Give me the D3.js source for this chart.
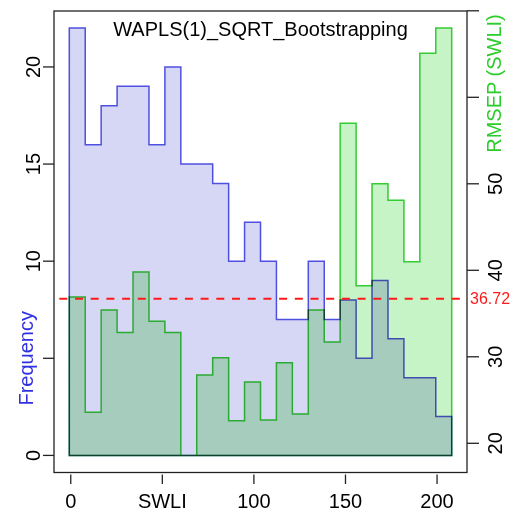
<!DOCTYPE html>
<html>
<head>
<meta charset="utf-8">
<script src="https://cdn.jsdelivr.net/npm/d3@7"></script>
<style>
  body { margin: 0; background: #fff; }
  svg { display: block; font-family: "Liberation Sans", Arial, sans-serif; }
</style>
</head>
<body>
<div id="plot"></div>
<script>
// SWLI range covered by the bins
const swliRange = [-0.8, 208];
// counts per bin (blue histogram, left axis)
const frequency = [22, 16, 18, 19, 19, 16, 20, 15, 15, 14, 10, 12, 10, 7, 7, 10, 7, 8, 5, 9, 6, 4, 4, 2];
// RMSEP per bin (green histogram, right axis), null = no estimate
const rmsep = [36.9, 23.6, 35.4, 32.8, 39.8, 34.1, 32.8, null, 27.9, 29.9, 22.6, 27.1, 22.7, 29.3, 23.4, 35.4, 31.7, 57.0, 38.2, 50.0, 48.1, 41.0, 65.1, 68.0];
const rmsepLimits = [18.6, 68.0];
const rmsepCutoff = 36.72;

// ticks and labels
const xTicks = [0, 50, 100, 150, 200];
const xLabels = [0, 100, 150, 200];
const freqTicks = [0, 5, 10, 15, 20];
const freqLabels = [0, 10, 15, 20];
const rmsepTicks = [20, 30, 40, 50, 60, 70];
const rmsepLabels = [20, 30, 40, 50];

document.addEventListener("DOMContentLoaded", function () {
  const width = 517;
  const height = 511;
  const box = { left: 54, right: 467, top: 11, bottom: 472.5 };

  const svg = d3.select("#plot")
    .append("svg")
    .attr("width", width)
    .attr("height", height);

  // R-style 4% padding on axis limits
  const pad = d => [d[0] - 0.04 * (d[1] - d[0]), d[1] + 0.04 * (d[1] - d[0])];

  const x = d3.scaleLinear().domain(pad(swliRange)).range([box.left, box.right]);
  const yF = d3.scaleLinear().domain(pad([0, d3.max(frequency)])).range([box.bottom, box.top]);
  const yR = d3.scaleLinear().domain(pad(rmsepLimits)).range([box.bottom, box.top]);

  const binWidth = (swliRange[1] - swliRange[0]) / frequency.length;

  // step outline of a histogram, closed along its base
  function steps(values, base) {
    const pts = [[swliRange[0], base]];
    values.forEach((v, i) => {
      const val = v == null ? base : v;
      pts.push([swliRange[0] + i * binWidth, val]);
      pts.push([swliRange[0] + (i + 1) * binWidth, val]);
    });
    pts.push([swliRange[1], base]);
    return pts;
  }

  const lineF = d3.line().x(d => x(d[0])).y(d => yF(d[1]));
  const lineR = d3.line().x(d => x(d[0])).y(d => yR(d[1]));

  // frequency histogram
  svg.append("path")
    .attr("d", lineF(steps(frequency, 0)) + "Z")
    .attr("fill", "#d6d6f5")
    .attr("stroke", "#5050e0")
    .attr("stroke-width", 1.5);

  // RMSEP histogram, multiplied over the first one
  svg.append("path")
    .attr("d", lineR(steps(rmsep, rmsepLimits[0])) + "Z")
    .attr("fill", "#c6f4c6")
    .attr("stroke", "#33cc33")
    .attr("stroke-width", 1.5)
    .style("mix-blend-mode", "multiply");

  // cutoff line
  svg.append("line")
    .attr("x1", box.left)
    .attr("x2", box.right)
    .attr("y1", yR(rmsepCutoff))
    .attr("y2", yR(rmsepCutoff))
    .attr("stroke", "#ff1a1a")
    .attr("stroke-width", 2)
    .attr("stroke-dasharray", "8 7.7")
    .attr("stroke-dashoffset", 10.4);

  svg.append("text")
    .attr("x", 470)
    .attr("y", yR(rmsepCutoff))
    .attr("dy", "0.36em")
    .attr("font-size", "16px")
    .attr("fill", "#ff1a1a")
    .text(rmsepCutoff.toFixed(2));

  // plot box
  svg.append("rect")
    .attr("x", box.left)
    .attr("y", box.top)
    .attr("width", box.right - box.left)
    .attr("height", box.bottom - box.top)
    .attr("fill", "none")
    .attr("stroke", "#222")
    .attr("stroke-width", 1.3);

  // bottom axis
  svg.selectAll(".xtick")
    .data(xTicks)
    .enter()
    .append("line")
    .attr("x1", d => x(d))
    .attr("x2", d => x(d))
    .attr("y1", 474.5)
    .attr("y2", 484)
    .attr("stroke", "#222")
    .attr("stroke-width", 1.3);

  svg.selectAll(".xlab")
    .data(xLabels)
    .enter()
    .append("text")
    .attr("x", d => x(d))
    .attr("y", 508)
    .attr("text-anchor", "middle")
    .attr("font-size", "20px")
    .text(d => d);

  svg.append("text")
    .attr("x", x(50))
    .attr("y", 508)
    .attr("text-anchor", "middle")
    .attr("font-size", "20px")
    .text("SWLI");

  // left axis
  svg.selectAll(".ftick")
    .data(freqTicks)
    .enter()
    .append("line")
    .attr("x1", 43)
    .attr("x2", box.left)
    .attr("y1", d => yF(d))
    .attr("y2", d => yF(d))
    .attr("stroke", "#222")
    .attr("stroke-width", 1.3);

  svg.selectAll(".flab")
    .data(freqLabels)
    .enter()
    .append("text")
    .attr("transform", d => `translate(39.5,${yF(d)}) rotate(-90)`)
    .attr("text-anchor", "middle")
    .attr("font-size", "20px")
    .text(d => d);

  svg.append("text")
    .attr("transform", `translate(33,${yF(5)}) rotate(-90)`)
    .attr("text-anchor", "middle")
    .attr("font-size", "20px")
    .attr("fill", "#3030e0")
    .text("Frequency");

  // right axis
  svg.selectAll(".rtick")
    .data(rmsepTicks)
    .enter()
    .append("line")
    .attr("x1", box.right)
    .attr("x2", 479)
    .attr("y1", d => yR(d))
    .attr("y2", d => yR(d))
    .attr("stroke", "#222")
    .attr("stroke-width", 1.3);

  svg.selectAll(".rlab")
    .data(rmsepLabels)
    .enter()
    .append("text")
    .attr("transform", d => `translate(501.5,${yR(d)}) rotate(-90)`)
    .attr("text-anchor", "middle")
    .attr("font-size", "20px")
    .text(d => d);

  svg.append("text")
    .attr("transform", "translate(501,83.5) rotate(-90)")
    .attr("text-anchor", "middle")
    .attr("font-size", "20px")
    .attr("fill", "#2ccc2c")
    .text("RMSEP (SWLI)");

  // title
  svg.append("text")
    .attr("x", (box.left + box.right) / 2)
    .attr("y", 35.5)
    .attr("text-anchor", "middle")
    .attr("font-size", "20px")
    .text("WAPLS(1)_SQRT_Bootstrapping");
});
</script>
</body>
</html>
